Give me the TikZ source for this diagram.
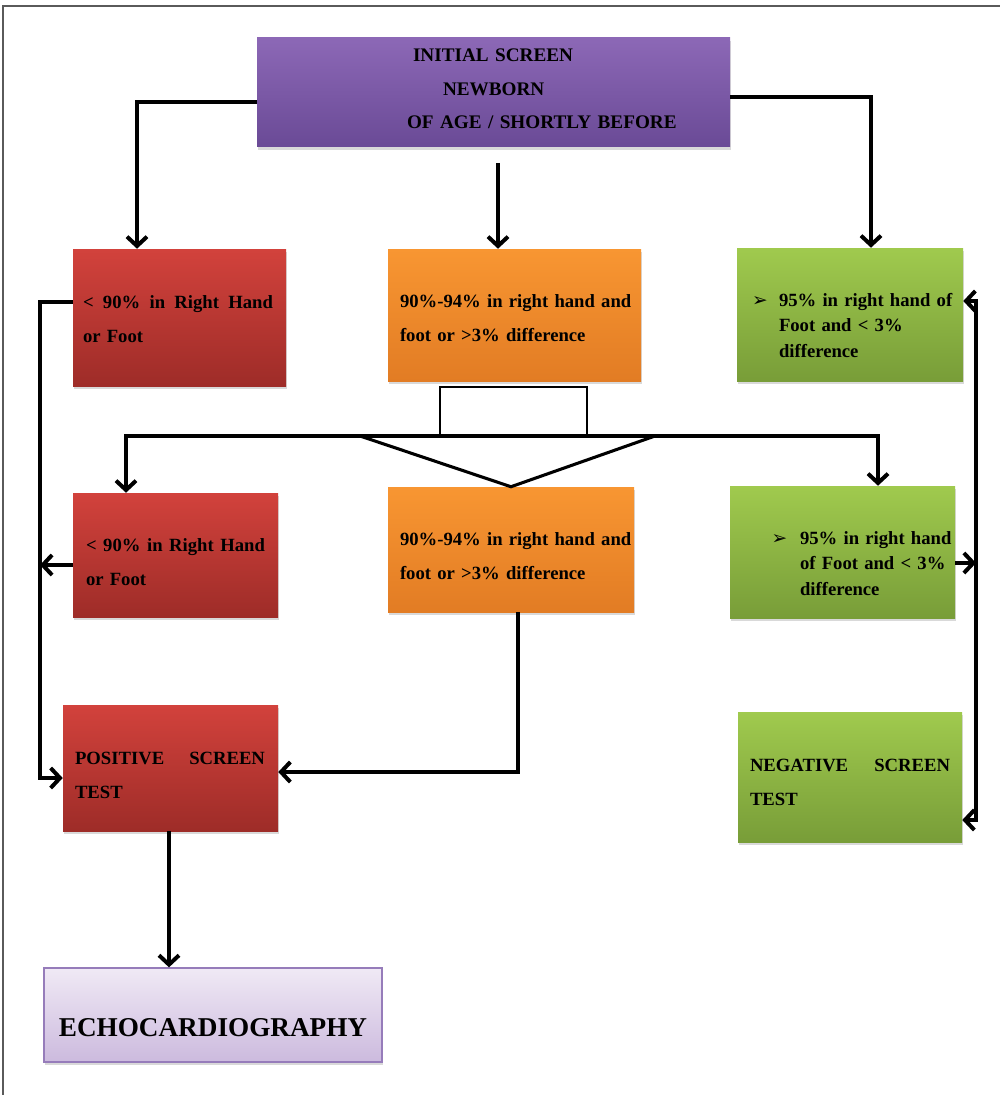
\documentclass[tikz,border=0pt]{standalone}
\usepackage{fontspec}
\setmainfont{Liberation Serif}
\newfontfamily\dejavu{DejaVu Sans}
\usetikzlibrary{arrows.meta,shadows}
\definecolor{purT}{RGB}{140,104,182}
\definecolor{purB}{RGB}{106,74,150}
\definecolor{redT}{RGB}{210,66,60}
\definecolor{redB}{RGB}{158,44,40}
\definecolor{orT}{RGB}{248,150,50}
\definecolor{orB}{RGB}{226,124,36}
\definecolor{grT}{RGB}{160,202,78}
\definecolor{grB}{RGB}{120,157,56}
\definecolor{ecT}{RGB}{240,233,245}
\definecolor{ecB}{RGB}{204,186,222}
\definecolor{ecD}{RGB}{150,124,186}
\definecolor{framec}{RGB}{90,90,90}
\newcommand\ind[1]{\hspace*{#1}}
\newcommand\bul{{\dejavu\fontsize{14pt}{14pt}\selectfont ➢}}
\begin{document}
\begin{tikzpicture}[x=0.75pt,y=-0.75pt,
  box/.style={inner sep=0pt, align=left, font=\bfseries\fontsize{14pt}{25.5pt}\selectfont,
    text height=0pt,
    drop shadow={opacity=0.3, shadow xshift=0.8pt, shadow yshift=-2pt}},
  purbox/.style={box, top color=purT, bottom color=purB},
  redbox/.style={box, top color=redT, bottom color=redB},
  orbox/.style={box, top color=orT, bottom color=orB},
  grbox/.style={box, top color=grT, bottom color=grB},
  conn/.style={line width=3pt},
  arr/.style={conn, -{Straight Barb[length=7pt,width=15pt]}},
  arrs/.style={conn, {Straight Barb[length=7pt,width=15pt]}-{Straight Barb[length=7pt,width=15pt]}}]
\useasboundingbox (0,0) rectangle (1000,1095);
\draw[framec, line width=1.5pt] (3,1095) -- (3,6) -- (1000,6);

% boxes
\node[purbox, minimum height=81.75pt, text width=354.75pt, text depth=45.75pt,
  font=\bfseries\fontsize{14.4pt}{25pt}\selectfont] (top) at (493.5,92.5)
  {\ind{117pt}INITIAL SCREEN\\ \ind{139.5pt}NEWBORN\\ \ind{112.5pt}OF AGE / SHORTLY BEFORE};

\node[redbox, minimum height=102.75pt, text width=159.75pt, text depth=14.25pt] (L1) at (179.5,317.5)
  {\ind{7.5pt}\hbox to 142.5pt{<\hfill 90\%\hfill in\hfill Right\hfill Hand}\\ \ind{7.5pt}or Foot};
\node[orbox, minimum height=99pt, text width=189.75pt, text depth=11.25pt] (M1) at (514.5,315)
  {\ind{9pt}90\%-94\% in right hand and\\ \ind{9pt}foot or >3\% difference};
\node[grbox, minimum height=99.75pt, text width=169.5pt, text depth=12pt,
  font=\bfseries\fontsize{14pt}{19pt}\selectfont] (R1) at (850,314.5)
  {\ind{31.5pt}\llap{\bul\hspace{8.5pt}}95\% in right hand of\\ \ind{31.5pt}Foot and < 3\%\\ \ind{31.5pt}difference};

\node[redbox, minimum height=93pt, text width=153.75pt, text depth=5.25pt] (L2) at (175.5,555)
  {\ind{9.75pt}\hbox to 134.25pt{<\hfill 90\%\hfill in\hfill Right\hfill Hand}\\ \ind{9.75pt}or Foot};
\node[orbox, minimum height=93.75pt, text width=184.5pt, text depth=6pt] (M2) at (511,549.5)
  {\ind{9pt}90\%-94\% in right hand and\\ \ind{9pt}foot or >3\% difference};
\node[grbox, minimum height=99pt, text width=168.75pt, text depth=11.25pt,
  font=\bfseries\fontsize{14pt}{19pt}\selectfont] (R2) at (842.5,552)
  {\ind{52.5pt}\llap{\bul\hspace{9.5pt}}95\% in right hand\\ \ind{52.5pt}of Foot and < 3\%\\ \ind{52.5pt}difference};

\node[redbox, minimum height=94.5pt, text width=161.25pt, text depth=6pt] (pos) at (170.5,768)
  {\ind{9pt}\hbox to 142.5pt{POSITIVE\hfill SCREEN}\\ \ind{9pt}TEST};
\node[grbox, minimum height=97.5pt, text width=168pt, text depth=8pt] (neg) at (850,777)
  {\ind{9pt}\hbox to 150pt{NEGATIVE\hfill SCREEN}\\ \ind{9pt}TEST};

\node[inner sep=0pt, draw=ecD, line width=1pt, top color=ecT, bottom color=ecB,
  drop shadow={opacity=0.3, shadow xshift=0.8pt, shadow yshift=-2pt},
  minimum width=253.5pt, minimum height=70.5pt,
  font=\bfseries\fontsize{20.4pt}{24pt}\selectfont, text height=31.5pt, text depth=0pt] (echo) at (213,1015) {ECHOCARDIOGRAPHY};

\node[draw, line width=2pt, inner sep=0pt, minimum width=110.25pt, minimum height=36.75pt] (sq) at (513.5,411.5) {};

% coordinates
\coordinate (tL) at (137,102);
\coordinate (tR) at (871,97);
\coordinate (mc) at (498,163);
\coordinate (hl) at (126,436);
\coordinate (hr) at (878,436);
\coordinate (vl) at (360,436);
\coordinate (vr) at (655,436);
\coordinate (lv) at (40,302);
\coordinate (lm) at (40,565);
\coordinate (lb) at (40,778);
\coordinate (rt) at (976,301);
\coordinate (rm) at (976,563);
\coordinate (rb) at (976,820);
\coordinate (m2c) at (518,772);
\coordinate (pe) at (169,900);

% connectors
\draw[arr] (top.west |- tL) -| (tL |- L1.north);
\draw[arr] (top.east |- tR) -| (tR |- R1.north);
\draw[arr] (mc) -- (mc |- M1.north);
\draw[arrs] (hl |- L2.north) -- (hl) -- (hr) -- (hr |- R2.north);
\draw[line width=2.3pt, line join=miter] (vl) -- (M2.north) -- (vr);
\draw[arr] (L1.west |- lv) -- (lv) -- (lb) -- (pos.west |- lb);
\draw[arr] (L2.west |- lm) -- (lm);
\draw[arrs] (R1.east |- rt) -- (rt) -- (rb) -- (neg.east |- rb);
\draw[arr] (R2.east |- rm) -- (rm);
\draw[arr] (M2.south -| m2c) -- (m2c) -- (pos.east |- m2c);
\draw[arr] (pos.south -| pe) -- (echo.north -| pe);
\end{tikzpicture}
\end{document}
